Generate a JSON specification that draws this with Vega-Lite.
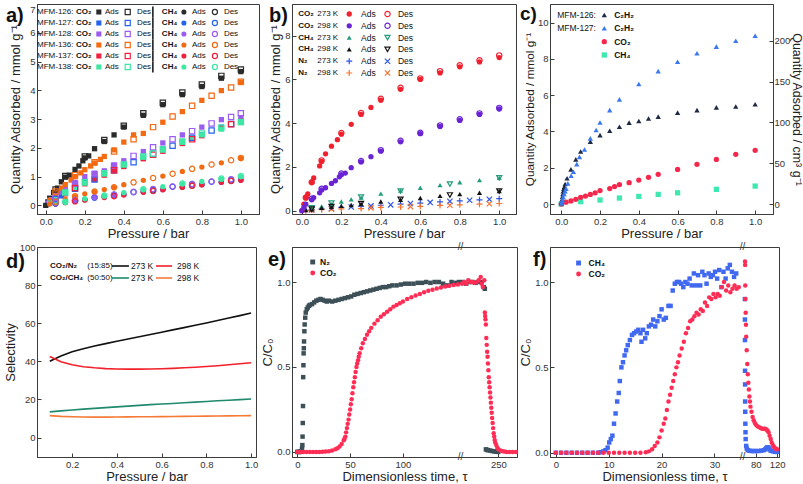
{
"$schema": "https://vega.github.io/schema/vega-lite/v6.json",
"autosize": {"type": "pad"},
"padding": {"left": 3, "top": 3, "right": 0, "bottom": 0},
"background": "white",
"config": {
  "font": "Liberation Sans",
  "view": {"stroke": "#3c3c3c", "strokeWidth": 1},
  "axis": {"grid": false, "domainColor": "#3c3c3c", "tickColor": "#3c3c3c", "tickSize": -4, "labelPadding": 6, "labelFontSize": 9.5, "labelColor": "#333333", "titleFontSize": 13, "titleFontWeight": "normal", "titleColor": "#222222", "titlePadding": 2, "labelFlush": false, "labelOverlap": false},
  "point": {"opacity": 1},
  "tick": {"opacity": 1},
  "text": {"color": "#111111", "fontSize": 8}
},
"columns": 3,
"bounds": "flush",
"align": "each",
"spacing": {"row": 33, "column": 33},
"resolve": {"scale": {"color": "independent", "shape": "independent"}},
"datasets": {
"a": [
{"m":"126","g":"C","t":"A","p":0,"q":0},{"m":"126","g":"C","t":"A","p":0.01,"q":0.12},{"m":"126","g":"C","t":"A","p":0.02,"q":0.25},{"m":"126","g":"C","t":"A","p":0.04,"q":0.45},{"m":"126","g":"C","t":"A","p":0.06,"q":0.6},{"m":"126","g":"C","t":"A","p":0.08,"q":0.82},{"m":"126","g":"C","t":"A","p":0.1,"q":0.98},{"m":"126","g":"C","t":"A","p":0.12,"q":1.05},{"m":"126","g":"C","t":"A","p":0.15,"q":1.25},{"m":"126","g":"C","t":"A","p":0.17,"q":1.37},{"m":"126","g":"C","t":"A","p":0.19,"q":1.55},{"m":"126","g":"C","t":"A","p":0.2,"q":1.65},{"m":"126","g":"C","t":"A","p":0.22,"q":1.72},{"m":"126","g":"C","t":"A","p":0.25,"q":1.97},{"m":"126","g":"C","t":"A","p":0.3,"q":2.22},{"m":"126","g":"C","t":"A","p":0.35,"q":2.45},{"m":"126","g":"C","t":"A","p":0.4,"q":2.72},{"m":"126","g":"C","t":"A","p":0.5,"q":3.13},{"m":"126","g":"C","t":"A","p":0.6,"q":3.5},{"m":"126","g":"C","t":"A","p":0.7,"q":3.85},{"m":"126","g":"C","t":"A","p":0.8,"q":4.13},{"m":"126","g":"C","t":"A","p":0.9,"q":4.42},{"m":"126","g":"C","t":"A","p":1,"q":4.65},
{"m":"126","g":"C","t":"D","p":1,"q":4.72},{"m":"126","g":"C","t":"D","p":0.9,"q":4.5},{"m":"126","g":"C","t":"D","p":0.8,"q":4.2},{"m":"126","g":"C","t":"D","p":0.7,"q":3.92},{"m":"126","g":"C","t":"D","p":0.6,"q":3.57},{"m":"126","g":"C","t":"D","p":0.5,"q":3.2},{"m":"126","g":"C","t":"D","p":0.4,"q":2.77},{"m":"126","g":"C","t":"D","p":0.3,"q":2.27},{"m":"126","g":"C","t":"D","p":0.2,"q":1.7},{"m":"126","g":"C","t":"D","p":0.1,"q":1.02},{"m":"126","g":"C","t":"D","p":0.05,"q":0.55},
{"m":"127","g":"C","t":"A","p":0.01,"q":0.05},{"m":"127","g":"C","t":"A","p":0.03,"q":0.15},{"m":"127","g":"C","t":"A","p":0.05,"q":0.22},{"m":"127","g":"C","t":"A","p":0.08,"q":0.33},{"m":"127","g":"C","t":"A","p":0.1,"q":0.42},{"m":"127","g":"C","t":"A","p":0.15,"q":0.6},{"m":"127","g":"C","t":"A","p":0.2,"q":0.8},{"m":"127","g":"C","t":"A","p":0.25,"q":0.95},{"m":"127","g":"C","t":"A","p":0.3,"q":1.08},{"m":"127","g":"C","t":"A","p":0.4,"q":1.38},{"m":"127","g":"C","t":"A","p":0.5,"q":1.65},{"m":"127","g":"C","t":"A","p":0.6,"q":1.93},{"m":"127","g":"C","t":"A","p":0.7,"q":2.2},{"m":"127","g":"C","t":"A","p":0.8,"q":2.45},{"m":"127","g":"C","t":"A","p":0.9,"q":2.72},{"m":"127","g":"C","t":"A","p":1,"q":2.95},
{"m":"127","g":"C","t":"D","p":0.95,"q":2.83},{"m":"127","g":"C","t":"D","p":0.85,"q":2.6},{"m":"127","g":"C","t":"D","p":0.75,"q":2.35},{"m":"127","g":"C","t":"D","p":0.65,"q":2.07},{"m":"127","g":"C","t":"D","p":0.55,"q":1.8},{"m":"127","g":"C","t":"D","p":0.45,"q":1.5},{"m":"127","g":"C","t":"D","p":0.35,"q":1.22},{"m":"127","g":"C","t":"D","p":0.25,"q":0.9},{"m":"127","g":"C","t":"D","p":0.15,"q":0.58},{"m":"127","g":"C","t":"D","p":0.05,"q":0.22},
{"m":"128","g":"C","t":"A","p":0.01,"q":0.08},{"m":"128","g":"C","t":"A","p":0.03,"q":0.2},{"m":"128","g":"C","t":"A","p":0.05,"q":0.3},{"m":"128","g":"C","t":"A","p":0.08,"q":0.45},{"m":"128","g":"C","t":"A","p":0.1,"q":0.55},{"m":"128","g":"C","t":"A","p":0.15,"q":0.8},{"m":"128","g":"C","t":"A","p":0.2,"q":1.0},{"m":"128","g":"C","t":"A","p":0.25,"q":1.12},{"m":"128","g":"C","t":"A","p":0.3,"q":1.2},{"m":"128","g":"C","t":"A","p":0.35,"q":1.4},{"m":"128","g":"C","t":"A","p":0.4,"q":1.55},{"m":"128","g":"C","t":"A","p":0.5,"q":1.87},{"m":"128","g":"C","t":"A","p":0.6,"q":2.17},{"m":"128","g":"C","t":"A","p":0.7,"q":2.45},{"m":"128","g":"C","t":"A","p":0.8,"q":2.72},{"m":"128","g":"C","t":"A","p":0.9,"q":2.98},{"m":"128","g":"C","t":"A","p":1,"q":3.05},
{"m":"128","g":"C","t":"D","p":1,"q":3.2},{"m":"128","g":"C","t":"D","p":0.95,"q":3.07},{"m":"128","g":"C","t":"D","p":0.85,"q":2.85},{"m":"128","g":"C","t":"D","p":0.75,"q":2.58},{"m":"128","g":"C","t":"D","p":0.65,"q":2.3},{"m":"128","g":"C","t":"D","p":0.55,"q":2.02},{"m":"128","g":"C","t":"D","p":0.45,"q":1.72},{"m":"128","g":"C","t":"D","p":0.35,"q":1.38},{"m":"128","g":"C","t":"D","p":0.25,"q":1.08},{"m":"128","g":"C","t":"D","p":0.15,"q":0.75},{"m":"128","g":"C","t":"D","p":0.05,"q":0.32},
{"m":"136","g":"C","t":"A","p":0.02,"q":0.18},{"m":"136","g":"C","t":"A","p":0.05,"q":0.43},{"m":"136","g":"C","t":"A","p":0.08,"q":0.6},{"m":"136","g":"C","t":"A","p":0.1,"q":0.72},{"m":"136","g":"C","t":"A","p":0.13,"q":0.88},{"m":"136","g":"C","t":"A","p":0.15,"q":1.0},{"m":"136","g":"C","t":"A","p":0.18,"q":1.13},{"m":"136","g":"C","t":"A","p":0.2,"q":1.24},{"m":"136","g":"C","t":"A","p":0.23,"q":1.37},{"m":"136","g":"C","t":"A","p":0.25,"q":1.47},{"m":"136","g":"C","t":"A","p":0.28,"q":1.6},{"m":"136","g":"C","t":"A","p":0.3,"q":1.7},{"m":"136","g":"C","t":"A","p":0.35,"q":1.93},{"m":"136","g":"C","t":"A","p":0.4,"q":2.2},{"m":"136","g":"C","t":"A","p":0.45,"q":2.45},{"m":"136","g":"C","t":"A","p":0.5,"q":2.5},{"m":"136","g":"C","t":"A","p":0.6,"q":2.89},{"m":"136","g":"C","t":"A","p":0.7,"q":3.26},{"m":"136","g":"C","t":"A","p":0.8,"q":3.65},{"m":"136","g":"C","t":"A","p":0.9,"q":3.99},{"m":"136","g":"C","t":"A","p":1,"q":4.27},
{"m":"136","g":"C","t":"D","p":1,"q":4.3},{"m":"136","g":"C","t":"D","p":0.95,"q":4.1},{"m":"136","g":"C","t":"D","p":0.85,"q":3.81},{"m":"136","g":"C","t":"D","p":0.75,"q":3.46},{"m":"136","g":"C","t":"D","p":0.65,"q":3.09},{"m":"136","g":"C","t":"D","p":0.55,"q":2.72},{"m":"136","g":"C","t":"D","p":0.45,"q":2.3},{"m":"136","g":"C","t":"D","p":0.35,"q":1.87},{"m":"136","g":"C","t":"D","p":0.25,"q":1.5},{"m":"136","g":"C","t":"D","p":0.15,"q":1.05},{"m":"136","g":"C","t":"D","p":0.05,"q":0.48},
{"m":"137","g":"C","t":"A","p":0.02,"q":0.08},{"m":"137","g":"C","t":"A","p":0.05,"q":0.2},{"m":"137","g":"C","t":"A","p":0.1,"q":0.4},{"m":"137","g":"C","t":"A","p":0.15,"q":0.58},{"m":"137","g":"C","t":"A","p":0.2,"q":0.75},{"m":"137","g":"C","t":"A","p":0.25,"q":0.9},{"m":"137","g":"C","t":"A","p":0.3,"q":1.05},{"m":"137","g":"C","t":"A","p":0.35,"q":1.2},{"m":"137","g":"C","t":"A","p":0.4,"q":1.35},{"m":"137","g":"C","t":"A","p":0.5,"q":1.62},{"m":"137","g":"C","t":"A","p":0.6,"q":1.88},{"m":"137","g":"C","t":"A","p":0.7,"q":2.15},{"m":"137","g":"C","t":"A","p":0.8,"q":2.42},{"m":"137","g":"C","t":"A","p":0.9,"q":2.68},{"m":"137","g":"C","t":"A","p":1,"q":2.92},
{"m":"137","g":"C","t":"D","p":0.95,"q":2.82},{"m":"137","g":"C","t":"D","p":0.75,"q":2.3},{"m":"137","g":"C","t":"D","p":0.55,"q":1.76},{"m":"137","g":"C","t":"D","p":0.35,"q":1.22},{"m":"137","g":"C","t":"D","p":0.15,"q":0.6},
{"m":"138","g":"C","t":"A","p":0.02,"q":0.08},{"m":"138","g":"C","t":"A","p":0.05,"q":0.22},{"m":"138","g":"C","t":"A","p":0.1,"q":0.45},{"m":"138","g":"C","t":"A","p":0.15,"q":0.62},{"m":"138","g":"C","t":"A","p":0.2,"q":0.78},{"m":"138","g":"C","t":"A","p":0.3,"q":1.1},{"m":"138","g":"C","t":"A","p":0.4,"q":1.42},{"m":"138","g":"C","t":"A","p":0.5,"q":1.68},{"m":"138","g":"C","t":"A","p":0.6,"q":1.93},{"m":"138","g":"C","t":"A","p":0.7,"q":2.2},{"m":"138","g":"C","t":"A","p":0.75,"q":2.33},{"m":"138","g":"C","t":"A","p":0.8,"q":2.45},{"m":"138","g":"C","t":"A","p":0.9,"q":2.65},{"m":"138","g":"C","t":"A","p":1,"q":2.88},
{"m":"138","g":"C","t":"D","p":1,"q":2.9},{"m":"138","g":"C","t":"D","p":0.9,"q":2.7},{"m":"138","g":"C","t":"D","p":0.8,"q":2.5},{"m":"138","g":"C","t":"D","p":0.7,"q":2.22},{"m":"138","g":"C","t":"D","p":0.6,"q":1.95},{"m":"138","g":"C","t":"D","p":0.55,"q":1.8},{"m":"138","g":"C","t":"D","p":0.5,"q":1.7},{"m":"138","g":"C","t":"D","p":0.4,"q":1.42},{"m":"138","g":"C","t":"D","p":0.3,"q":1.12},{"m":"138","g":"C","t":"D","p":0.2,"q":0.8},{"m":"138","g":"C","t":"D","p":0.1,"q":0.45},
{"m":"126","g":"M","t":"A","p":0,"q":0},{"m":"126","g":"M","t":"A","p":0.05,"q":0.05},{"m":"126","g":"M","t":"A","p":0.1,"q":0.1},{"m":"126","g":"M","t":"A","p":0.2,"q":0.2},{"m":"126","g":"M","t":"A","p":0.3,"q":0.3},{"m":"126","g":"M","t":"A","p":0.4,"q":0.38},{"m":"126","g":"M","t":"A","p":0.5,"q":0.47},{"m":"126","g":"M","t":"A","p":0.6,"q":0.55},{"m":"126","g":"M","t":"A","p":0.7,"q":0.63},{"m":"126","g":"M","t":"A","p":0.8,"q":0.72},{"m":"126","g":"M","t":"A","p":0.9,"q":0.8},{"m":"126","g":"M","t":"A","p":1,"q":0.88},
{"m":"126","g":"M","t":"D","p":0.95,"q":0.86},{"m":"126","g":"M","t":"D","p":0.75,"q":0.69},{"m":"126","g":"M","t":"D","p":0.55,"q":0.52},{"m":"126","g":"M","t":"D","p":0.35,"q":0.35},{"m":"126","g":"M","t":"D","p":0.15,"q":0.16},
{"m":"127","g":"M","t":"A","p":0.05,"q":0.06},{"m":"127","g":"M","t":"A","p":0.1,"q":0.11},{"m":"127","g":"M","t":"A","p":0.2,"q":0.2},{"m":"127","g":"M","t":"A","p":0.3,"q":0.3},{"m":"127","g":"M","t":"A","p":0.4,"q":0.38},{"m":"127","g":"M","t":"A","p":0.5,"q":0.47},{"m":"127","g":"M","t":"A","p":0.6,"q":0.56},{"m":"127","g":"M","t":"A","p":0.7,"q":0.65},{"m":"127","g":"M","t":"A","p":0.8,"q":0.74},{"m":"127","g":"M","t":"A","p":0.9,"q":0.83},{"m":"127","g":"M","t":"A","p":1,"q":0.92},
{"m":"127","g":"M","t":"D","p":0.95,"q":0.9},{"m":"127","g":"M","t":"D","p":0.85,"q":0.82},{"m":"127","g":"M","t":"D","p":0.75,"q":0.74},{"m":"127","g":"M","t":"D","p":0.65,"q":0.65},{"m":"127","g":"M","t":"D","p":0.55,"q":0.56},{"m":"127","g":"M","t":"D","p":0.45,"q":0.46},{"m":"127","g":"M","t":"D","p":0.35,"q":0.37},{"m":"127","g":"M","t":"D","p":0.25,"q":0.27},{"m":"127","g":"M","t":"D","p":0.15,"q":0.17},{"m":"127","g":"M","t":"D","p":0.05,"q":0.07},
{"m":"128","g":"M","t":"A","p":0.05,"q":0.07},{"m":"128","g":"M","t":"A","p":0.1,"q":0.12},{"m":"128","g":"M","t":"A","p":0.15,"q":0.16},{"m":"128","g":"M","t":"A","p":0.2,"q":0.21},{"m":"128","g":"M","t":"A","p":0.25,"q":0.26},{"m":"128","g":"M","t":"A","p":0.3,"q":0.31},{"m":"128","g":"M","t":"A","p":0.35,"q":0.35},{"m":"128","g":"M","t":"A","p":0.4,"q":0.39},{"m":"128","g":"M","t":"A","p":0.5,"q":0.48},{"m":"128","g":"M","t":"A","p":0.6,"q":0.56},{"m":"128","g":"M","t":"A","p":0.7,"q":0.64},{"m":"128","g":"M","t":"A","p":0.8,"q":0.72},{"m":"128","g":"M","t":"A","p":0.9,"q":0.8},{"m":"128","g":"M","t":"A","p":1,"q":0.88},
{"m":"128","g":"M","t":"D","p":0.95,"q":0.91},{"m":"128","g":"M","t":"D","p":0.85,"q":0.83},{"m":"128","g":"M","t":"D","p":0.75,"q":0.74},{"m":"128","g":"M","t":"D","p":0.65,"q":0.66},{"m":"128","g":"M","t":"D","p":0.55,"q":0.57},{"m":"128","g":"M","t":"D","p":0.45,"q":0.47},{"m":"128","g":"M","t":"D","p":0.35,"q":0.38},{"m":"128","g":"M","t":"D","p":0.25,"q":0.29},{"m":"128","g":"M","t":"D","p":0.15,"q":0.19},{"m":"128","g":"M","t":"D","p":0.05,"q":0.08},
{"m":"136","g":"M","t":"A","p":0.02,"q":0.05},{"m":"136","g":"M","t":"A","p":0.05,"q":0.12},{"m":"136","g":"M","t":"A","p":0.1,"q":0.22},{"m":"136","g":"M","t":"A","p":0.15,"q":0.3},{"m":"136","g":"M","t":"A","p":0.2,"q":0.4},{"m":"136","g":"M","t":"A","p":0.25,"q":0.47},{"m":"136","g":"M","t":"A","p":0.3,"q":0.55},{"m":"136","g":"M","t":"A","p":0.35,"q":0.62},{"m":"136","g":"M","t":"A","p":0.4,"q":0.72},{"m":"136","g":"M","t":"A","p":0.5,"q":0.87},{"m":"136","g":"M","t":"A","p":0.6,"q":1.02},{"m":"136","g":"M","t":"A","p":0.7,"q":1.18},{"m":"136","g":"M","t":"A","p":0.8,"q":1.33},{"m":"136","g":"M","t":"A","p":0.9,"q":1.48},{"m":"136","g":"M","t":"A","p":1,"q":1.63},
{"m":"136","g":"M","t":"D","p":1,"q":1.65},{"m":"136","g":"M","t":"D","p":0.95,"q":1.57},{"m":"136","g":"M","t":"D","p":0.85,"q":1.42},{"m":"136","g":"M","t":"D","p":0.75,"q":1.27},{"m":"136","g":"M","t":"D","p":0.65,"q":1.1},{"m":"136","g":"M","t":"D","p":0.55,"q":0.95},{"m":"136","g":"M","t":"D","p":0.45,"q":0.8},{"m":"136","g":"M","t":"D","p":0.35,"q":0.63},{"m":"136","g":"M","t":"D","p":0.25,"q":0.48},{"m":"136","g":"M","t":"D","p":0.15,"q":0.32},{"m":"136","g":"M","t":"D","p":0.05,"q":0.13},
{"m":"137","g":"M","t":"A","p":0.05,"q":0.05},{"m":"137","g":"M","t":"A","p":0.1,"q":0.1},{"m":"137","g":"M","t":"A","p":0.2,"q":0.18},{"m":"137","g":"M","t":"A","p":0.3,"q":0.27},{"m":"137","g":"M","t":"A","p":0.4,"q":0.36},{"m":"137","g":"M","t":"A","p":0.5,"q":0.46},{"m":"137","g":"M","t":"A","p":0.6,"q":0.54},{"m":"137","g":"M","t":"A","p":0.7,"q":0.63},{"m":"137","g":"M","t":"A","p":0.8,"q":0.72},{"m":"137","g":"M","t":"A","p":0.9,"q":0.8},{"m":"137","g":"M","t":"A","p":1,"q":0.87},
{"m":"137","g":"M","t":"D","p":0.95,"q":0.85},{"m":"137","g":"M","t":"D","p":0.75,"q":0.68},{"m":"137","g":"M","t":"D","p":0.55,"q":0.5},{"m":"137","g":"M","t":"D","p":0.35,"q":0.32},{"m":"137","g":"M","t":"D","p":0.15,"q":0.14},
{"m":"138","g":"M","t":"A","p":0.05,"q":0.07},{"m":"138","g":"M","t":"A","p":0.1,"q":0.12},{"m":"138","g":"M","t":"A","p":0.2,"q":0.23},{"m":"138","g":"M","t":"A","p":0.3,"q":0.33},{"m":"138","g":"M","t":"A","p":0.4,"q":0.44},{"m":"138","g":"M","t":"A","p":0.5,"q":0.55},{"m":"138","g":"M","t":"A","p":0.6,"q":0.65},{"m":"138","g":"M","t":"A","p":0.7,"q":0.75},{"m":"138","g":"M","t":"A","p":0.8,"q":0.83},{"m":"138","g":"M","t":"A","p":0.9,"q":0.92},{"m":"138","g":"M","t":"A","p":1,"q":1.0},
{"m":"138","g":"M","t":"D","p":1,"q":1.02},{"m":"138","g":"M","t":"D","p":0.9,"q":0.93},{"m":"138","g":"M","t":"D","p":0.7,"q":0.76},{"m":"138","g":"M","t":"D","p":0.5,"q":0.56},{"m":"138","g":"M","t":"D","p":0.3,"q":0.34},{"m":"138","g":"M","t":"D","p":0.1,"q":0.13}
],
"legA": [{"m":"126","lab":"MFM-126:"},{"m":"127","lab":"MFM-127:"},{"m":"128","lab":"MFM-128:"},{"m":"136","lab":"MFM-136:"},{"m":"137","lab":"MFM-137:"},{"m":"138","lab":"MFM-138:"}],
"b": [
{"s":"CO2 273","t":"A","p":0,"q":0},{"s":"CO2 273","t":"A","p":0.01,"q":0.3},{"s":"CO2 273","t":"A","p":0.02,"q":0.6},{"s":"CO2 273","t":"A","p":0.03,"q":0.77},{"s":"CO2 273","t":"A","p":0.05,"q":1.3},{"s":"CO2 273","t":"A","p":0.06,"q":1.5},{"s":"CO2 273","t":"A","p":0.09,"q":2.05},{"s":"CO2 273","t":"A","p":0.1,"q":2.25},{"s":"CO2 273","t":"A","p":0.12,"q":2.6},{"s":"CO2 273","t":"A","p":0.15,"q":2.95},{"s":"CO2 273","t":"A","p":0.18,"q":3.25},{"s":"CO2 273","t":"A","p":0.2,"q":3.5},{"s":"CO2 273","t":"A","p":0.25,"q":3.95},{"s":"CO2 273","t":"A","p":0.3,"q":4.4},{"s":"CO2 273","t":"A","p":0.35,"q":4.72},{"s":"CO2 273","t":"A","p":0.4,"q":5.05},{"s":"CO2 273","t":"A","p":0.5,"q":5.55},{"s":"CO2 273","t":"A","p":0.6,"q":6.0},{"s":"CO2 273","t":"A","p":0.7,"q":6.3},{"s":"CO2 273","t":"A","p":0.8,"q":6.58},{"s":"CO2 273","t":"A","p":0.9,"q":6.8},{"s":"CO2 273","t":"A","p":1,"q":7.0},
{"s":"CO2 273","t":"D","p":1,"q":7.1},{"s":"CO2 273","t":"D","p":0.9,"q":6.88},{"s":"CO2 273","t":"D","p":0.8,"q":6.65},{"s":"CO2 273","t":"D","p":0.7,"q":6.38},{"s":"CO2 273","t":"D","p":0.6,"q":6.05},{"s":"CO2 273","t":"D","p":0.5,"q":5.62},{"s":"CO2 273","t":"D","p":0.4,"q":5.12},{"s":"CO2 273","t":"D","p":0.3,"q":4.47},{"s":"CO2 273","t":"D","p":0.2,"q":3.55},{"s":"CO2 273","t":"D","p":0.1,"q":2.3},{"s":"CO2 273","t":"D","p":0.05,"q":1.3},{"s":"CO2 273","t":"D","p":0.02,"q":0.6},
{"s":"CO2 298","t":"A","p":0,"q":0},{"s":"CO2 298","t":"A","p":0.01,"q":0.15},{"s":"CO2 298","t":"A","p":0.02,"q":0.3},{"s":"CO2 298","t":"A","p":0.05,"q":0.5},{"s":"CO2 298","t":"A","p":0.06,"q":0.6},{"s":"CO2 298","t":"A","p":0.09,"q":0.82},{"s":"CO2 298","t":"A","p":0.1,"q":0.95},{"s":"CO2 298","t":"A","p":0.12,"q":1.05},{"s":"CO2 298","t":"A","p":0.15,"q":1.25},{"s":"CO2 298","t":"A","p":0.17,"q":1.37},{"s":"CO2 298","t":"A","p":0.19,"q":1.55},{"s":"CO2 298","t":"A","p":0.2,"q":1.65},{"s":"CO2 298","t":"A","p":0.22,"q":1.72},{"s":"CO2 298","t":"A","p":0.25,"q":1.97},{"s":"CO2 298","t":"A","p":0.3,"q":2.23},{"s":"CO2 298","t":"A","p":0.35,"q":2.47},{"s":"CO2 298","t":"A","p":0.4,"q":2.72},{"s":"CO2 298","t":"A","p":0.5,"q":3.15},{"s":"CO2 298","t":"A","p":0.6,"q":3.52},{"s":"CO2 298","t":"A","p":0.7,"q":3.85},{"s":"CO2 298","t":"A","p":0.8,"q":4.13},{"s":"CO2 298","t":"A","p":0.9,"q":4.4},{"s":"CO2 298","t":"A","p":1,"q":4.65},
{"s":"CO2 298","t":"D","p":1,"q":4.7},{"s":"CO2 298","t":"D","p":0.9,"q":4.45},{"s":"CO2 298","t":"D","p":0.8,"q":4.18},{"s":"CO2 298","t":"D","p":0.7,"q":3.9},{"s":"CO2 298","t":"D","p":0.6,"q":3.56},{"s":"CO2 298","t":"D","p":0.5,"q":3.2},{"s":"CO2 298","t":"D","p":0.4,"q":2.77},{"s":"CO2 298","t":"D","p":0.3,"q":2.27},{"s":"CO2 298","t":"D","p":0.2,"q":1.7},{"s":"CO2 298","t":"D","p":0.1,"q":1.0},{"s":"CO2 298","t":"D","p":0.05,"q":0.55},
{"s":"CH4 273","t":"A","p":0.02,"q":0.05},{"s":"CH4 273","t":"A","p":0.05,"q":0.12},{"s":"CH4 273","t":"A","p":0.1,"q":0.2},{"s":"CH4 273","t":"A","p":0.15,"q":0.3},{"s":"CH4 273","t":"A","p":0.2,"q":0.42},{"s":"CH4 273","t":"A","p":0.25,"q":0.52},{"s":"CH4 273","t":"A","p":0.3,"q":0.6},{"s":"CH4 273","t":"A","p":0.4,"q":0.78},{"s":"CH4 273","t":"A","p":0.5,"q":0.92},{"s":"CH4 273","t":"A","p":0.6,"q":1.05},{"s":"CH4 273","t":"A","p":0.7,"q":1.17},{"s":"CH4 273","t":"A","p":0.8,"q":1.3},{"s":"CH4 273","t":"A","p":0.9,"q":1.4},{"s":"CH4 273","t":"A","p":1,"q":1.5},
{"s":"CH4 273","t":"D","p":1,"q":1.5},{"s":"CH4 273","t":"D","p":0.75,"q":1.22},{"s":"CH4 273","t":"D","p":0.5,"q":0.9},{"s":"CH4 273","t":"D","p":0.3,"q":0.62},{"s":"CH4 273","t":"D","p":0.15,"q":0.35},{"s":"CH4 273","t":"D","p":0.05,"q":0.13},
{"s":"CH4 298","t":"A","p":0.02,"q":0.03},{"s":"CH4 298","t":"A","p":0.05,"q":0.07},{"s":"CH4 298","t":"A","p":0.1,"q":0.13},{"s":"CH4 298","t":"A","p":0.15,"q":0.18},{"s":"CH4 298","t":"A","p":0.2,"q":0.22},{"s":"CH4 298","t":"A","p":0.25,"q":0.26},{"s":"CH4 298","t":"A","p":0.3,"q":0.32},{"s":"CH4 298","t":"A","p":0.4,"q":0.42},{"s":"CH4 298","t":"A","p":0.5,"q":0.5},{"s":"CH4 298","t":"A","p":0.6,"q":0.58},{"s":"CH4 298","t":"A","p":0.7,"q":0.68},{"s":"CH4 298","t":"A","p":0.8,"q":0.76},{"s":"CH4 298","t":"A","p":0.9,"q":0.82},{"s":"CH4 298","t":"A","p":1,"q":0.9},
{"s":"CH4 298","t":"D","p":1,"q":0.9},{"s":"CH4 298","t":"D","p":0.75,"q":0.72},{"s":"CH4 298","t":"D","p":0.5,"q":0.52},{"s":"CH4 298","t":"D","p":0.3,"q":0.33},{"s":"CH4 298","t":"D","p":0.15,"q":0.19},{"s":"CH4 298","t":"D","p":0.05,"q":0.08},
{"s":"N2 273","t":"A","p":0.02,"q":0.02},{"s":"N2 273","t":"A","p":0.05,"q":0.05},{"s":"N2 273","t":"A","p":0.1,"q":0.08},{"s":"N2 273","t":"A","p":0.2,"q":0.15},{"s":"N2 273","t":"A","p":0.3,"q":0.2},{"s":"N2 273","t":"A","p":0.4,"q":0.25},{"s":"N2 273","t":"A","p":0.5,"q":0.3},{"s":"N2 273","t":"A","p":0.6,"q":0.35},{"s":"N2 273","t":"A","p":0.7,"q":0.4},{"s":"N2 273","t":"A","p":0.8,"q":0.45},{"s":"N2 273","t":"A","p":0.9,"q":0.5},{"s":"N2 273","t":"A","p":1,"q":0.55},
{"s":"N2 273","t":"D","p":0.95,"q":0.52},{"s":"N2 273","t":"D","p":0.85,"q":0.48},{"s":"N2 273","t":"D","p":0.75,"q":0.43},{"s":"N2 273","t":"D","p":0.65,"q":0.38},{"s":"N2 273","t":"D","p":0.55,"q":0.33},{"s":"N2 273","t":"D","p":0.45,"q":0.27},{"s":"N2 273","t":"D","p":0.35,"q":0.22},{"s":"N2 273","t":"D","p":0.25,"q":0.17},{"s":"N2 273","t":"D","p":0.15,"q":0.1},{"s":"N2 273","t":"D","p":0.05,"q":0.05},
{"s":"N2 298","t":"A","p":0.02,"q":0.01},{"s":"N2 298","t":"A","p":0.05,"q":0.03},{"s":"N2 298","t":"A","p":0.1,"q":0.05},{"s":"N2 298","t":"A","p":0.2,"q":0.08},{"s":"N2 298","t":"A","p":0.3,"q":0.1},{"s":"N2 298","t":"A","p":0.4,"q":0.15},{"s":"N2 298","t":"A","p":0.5,"q":0.17},{"s":"N2 298","t":"A","p":0.6,"q":0.2},{"s":"N2 298","t":"A","p":0.7,"q":0.24},{"s":"N2 298","t":"A","p":0.8,"q":0.27},{"s":"N2 298","t":"A","p":0.9,"q":0.3},{"s":"N2 298","t":"A","p":1,"q":0.33},
{"s":"N2 298","t":"D","p":0.95,"q":0.32},{"s":"N2 298","t":"D","p":0.75,"q":0.25},{"s":"N2 298","t":"D","p":0.55,"q":0.19},{"s":"N2 298","t":"D","p":0.35,"q":0.13},{"s":"N2 298","t":"D","p":0.15,"q":0.07},{"s":"N2 298","t":"D","p":0.05,"q":0.03}
],
"legB": [{"s":"CO2 273","gas":"CO₂","tmp":"273 K"},{"s":"CO2 298","gas":"CO₂","tmp":"298 K"},{"s":"CH4 273","gas":"CH₄","tmp":"273 K"},{"s":"CH4 298","gas":"CH₄","tmp":"298 K"},{"s":"N2 273","gas":"N₂","tmp":"273 K"},{"s":"N2 298","gas":"N₂","tmp":"298 K"}],
"c": [
{"s":"CH4","p":0,"q":0},{"s":"CH4","p":0.1,"q":0.13},{"s":"CH4","p":0.2,"q":0.22},{"s":"CH4","p":0.3,"q":0.33},{"s":"CH4","p":0.4,"q":0.42},{"s":"CH4","p":0.5,"q":0.53},{"s":"CH4","p":0.6,"q":0.62},{"s":"CH4","p":0.8,"q":0.81},{"s":"CH4","p":1,"q":0.99},
{"s":"CO2","p":0,"q":0},{"s":"CO2","p":0.025,"q":0.1},{"s":"CO2","p":0.05,"q":0.17},{"s":"CO2","p":0.075,"q":0.26},{"s":"CO2","p":0.1,"q":0.37},{"s":"CO2","p":0.125,"q":0.44},{"s":"CO2","p":0.15,"q":0.53},{"s":"CO2","p":0.175,"q":0.62},{"s":"CO2","p":0.2,"q":0.74},{"s":"CO2","p":0.25,"q":0.85},{"s":"CO2","p":0.275,"q":0.96},{"s":"CO2","p":0.3,"q":1.07},{"s":"CO2","p":0.35,"q":1.18},{"s":"CO2","p":0.4,"q":1.32},{"s":"CO2","p":0.45,"q":1.47},{"s":"CO2","p":0.5,"q":1.64},{"s":"CO2","p":0.6,"q":1.91},{"s":"CO2","p":0.7,"q":2.19},{"s":"CO2","p":0.8,"q":2.46},{"s":"CO2","p":0.9,"q":2.74},{"s":"CO2","p":1,"q":2.96},
{"s":"126 C2H2","p":0.001,"q":0.05},{"s":"126 C2H2","p":0.002,"q":0.1},{"s":"126 C2H2","p":0.004,"q":0.25},{"s":"126 C2H2","p":0.006,"q":0.4},{"s":"126 C2H2","p":0.008,"q":0.55},{"s":"126 C2H2","p":0.01,"q":0.7},{"s":"126 C2H2","p":0.013,"q":0.85},{"s":"126 C2H2","p":0.016,"q":0.95},{"s":"126 C2H2","p":0.02,"q":1.1},{"s":"126 C2H2","p":0.03,"q":1.42},{"s":"126 C2H2","p":0.05,"q":1.91},{"s":"126 C2H2","p":0.075,"q":2.46},{"s":"126 C2H2","p":0.1,"q":2.9},{"s":"126 C2H2","p":0.15,"q":3.44},{"s":"126 C2H2","p":0.2,"q":3.8},{"s":"126 C2H2","p":0.25,"q":4.04},{"s":"126 C2H2","p":0.3,"q":4.26},{"s":"126 C2H2","p":0.35,"q":4.49},{"s":"126 C2H2","p":0.4,"q":4.58},{"s":"126 C2H2","p":0.45,"q":4.72},{"s":"126 C2H2","p":0.5,"q":4.82},{"s":"126 C2H2","p":0.6,"q":5.04},{"s":"126 C2H2","p":0.7,"q":5.18},{"s":"126 C2H2","p":0.8,"q":5.33},{"s":"126 C2H2","p":0.9,"q":5.38},{"s":"126 C2H2","p":1,"q":5.5},
{"s":"127 C2H2","p":0.001,"q":0.03},{"s":"127 C2H2","p":0.003,"q":0.1},{"s":"127 C2H2","p":0.006,"q":0.22},{"s":"127 C2H2","p":0.01,"q":0.38},{"s":"127 C2H2","p":0.015,"q":0.55},{"s":"127 C2H2","p":0.02,"q":0.7},{"s":"127 C2H2","p":0.025,"q":0.85},{"s":"127 C2H2","p":0.034,"q":1.14},{"s":"127 C2H2","p":0.051,"q":1.56},{"s":"127 C2H2","p":0.063,"q":1.78},{"s":"127 C2H2","p":0.08,"q":2.2},{"s":"127 C2H2","p":0.094,"q":2.6},{"s":"127 C2H2","p":0.12,"q":3.01},{"s":"127 C2H2","p":0.15,"q":3.62},{"s":"127 C2H2","p":0.18,"q":4.08},{"s":"127 C2H2","p":0.2,"q":4.5},{"s":"127 C2H2","p":0.25,"q":5.18},{"s":"127 C2H2","p":0.3,"q":5.77},{"s":"127 C2H2","p":0.4,"q":6.62},{"s":"127 C2H2","p":0.5,"q":7.33},{"s":"127 C2H2","p":0.6,"q":7.85},{"s":"127 C2H2","p":0.7,"q":8.31},{"s":"127 C2H2","p":0.8,"q":8.68},{"s":"127 C2H2","p":0.9,"q":9.0},{"s":"127 C2H2","p":1,"q":9.28}
],
"legC": [{"s":"126 C2H2","lab":"MFM-126:","gas":"C₂H₂"},{"s":"127 C2H2","lab":"MFM-127:","gas":"C₂H₂"},{"s":"CO2","lab":"","gas":"CO₂"},{"s":"CH4","lab":"","gas":"CH₄"}],
"d": [
{"s":"N2 273","p":0.1,"v":40},{"s":"N2 273","p":0.15,"v":42.8},{"s":"N2 273","p":0.2,"v":45},{"s":"N2 273","p":0.25,"v":46.6},{"s":"N2 273","p":0.3,"v":48},{"s":"N2 273","p":0.35,"v":49.3},{"s":"N2 273","p":0.4,"v":50.5},{"s":"N2 273","p":0.45,"v":51.7},{"s":"N2 273","p":0.5,"v":52.9},{"s":"N2 273","p":0.55,"v":54.1},{"s":"N2 273","p":0.6,"v":55.3},{"s":"N2 273","p":0.65,"v":56.5},{"s":"N2 273","p":0.7,"v":57.7},{"s":"N2 273","p":0.75,"v":58.9},{"s":"N2 273","p":0.8,"v":60.1},{"s":"N2 273","p":0.85,"v":61.4},{"s":"N2 273","p":0.9,"v":62.7},{"s":"N2 273","p":0.95,"v":64},{"s":"N2 273","p":1,"v":65.4},
{"s":"N2 298","p":0.1,"v":42.5},{"s":"N2 298","p":0.15,"v":39.8},{"s":"N2 298","p":0.2,"v":38.2},{"s":"N2 298","p":0.25,"v":37.2},{"s":"N2 298","p":0.3,"v":36.6},{"s":"N2 298","p":0.35,"v":36.2},{"s":"N2 298","p":0.4,"v":36},{"s":"N2 298","p":0.45,"v":35.9},{"s":"N2 298","p":0.5,"v":35.9},{"s":"N2 298","p":0.55,"v":36},{"s":"N2 298","p":0.6,"v":36.1},{"s":"N2 298","p":0.65,"v":36.3},{"s":"N2 298","p":0.7,"v":36.6},{"s":"N2 298","p":0.75,"v":36.9},{"s":"N2 298","p":0.8,"v":37.3},{"s":"N2 298","p":0.85,"v":37.7},{"s":"N2 298","p":0.9,"v":38.2},{"s":"N2 298","p":0.95,"v":38.7},{"s":"N2 298","p":1,"v":39.3},
{"s":"CH4 273","p":0.1,"v":13.5},{"s":"CH4 273","p":0.15,"v":14.0},{"s":"CH4 273","p":0.2,"v":14.5},{"s":"CH4 273","p":0.25,"v":14.9},{"s":"CH4 273","p":0.3,"v":15.3},{"s":"CH4 273","p":0.35,"v":15.7},{"s":"CH4 273","p":0.4,"v":16.1},{"s":"CH4 273","p":0.45,"v":16.5},{"s":"CH4 273","p":0.5,"v":16.9},{"s":"CH4 273","p":0.55,"v":17.3},{"s":"CH4 273","p":0.6,"v":17.6},{"s":"CH4 273","p":0.65,"v":17.9},{"s":"CH4 273","p":0.7,"v":18.3},{"s":"CH4 273","p":0.75,"v":18.6},{"s":"CH4 273","p":0.8,"v":18.9},{"s":"CH4 273","p":0.85,"v":19.3},{"s":"CH4 273","p":0.9,"v":19.6},{"s":"CH4 273","p":0.95,"v":19.9},{"s":"CH4 273","p":1,"v":20.2},
{"s":"CH4 298","p":0.1,"v":11.5},{"s":"CH4 298","p":0.15,"v":11.1},{"s":"CH4 298","p":0.2,"v":10.9},{"s":"CH4 298","p":0.25,"v":10.8},{"s":"CH4 298","p":0.3,"v":10.75},{"s":"CH4 298","p":0.35,"v":10.75},{"s":"CH4 298","p":0.4,"v":10.8},{"s":"CH4 298","p":0.45,"v":10.85},{"s":"CH4 298","p":0.5,"v":10.9},{"s":"CH4 298","p":0.55,"v":10.95},{"s":"CH4 298","p":0.6,"v":11.0},{"s":"CH4 298","p":0.65,"v":11.05},{"s":"CH4 298","p":0.7,"v":11.1},{"s":"CH4 298","p":0.75,"v":11.2},{"s":"CH4 298","p":0.8,"v":11.25},{"s":"CH4 298","p":0.85,"v":11.3},{"s":"CH4 298","p":0.9,"v":11.4},{"s":"CH4 298","p":0.95,"v":11.45},{"s":"CH4 298","p":1,"v":11.5}
],
"legD": [{"s":"N2 273","row":"N2","mix":"CO₂/N₂","ratio":"(15:85)","tmp":"273 K"},{"s":"N2 298","row":"N2","mix":"CO₂/N₂","ratio":"(15:85)","tmp":"298 K"},{"s":"CH4 273","row":"CH4","mix":"CO₂/CH₄","ratio":"(50:50)","tmp":"273 K"},{"s":"CH4 298","row":"CH4","mix":"CO₂/CH₄","ratio":"(50:50)","tmp":"298 K"}],
"e": [
{"s":"N2","u":0,"c":0},{"s":"N2","u":1,"c":0},{"s":"N2","u":2,"c":0},{"s":"N2","u":3,"c":0},{"s":"N2","u":4,"c":0.005},{"s":"N2","u":4.5,"c":0.02},{"s":"N2","u":4.8,"c":0.04},{"s":"N2","u":5,"c":0.09},{"s":"N2","u":5.2,"c":0.17},{"s":"N2","u":5.4,"c":0.27},{"s":"N2","u":5.6,"c":0.44},{"s":"N2","u":5.8,"c":0.51},{"s":"N2","u":6,"c":0.58},{"s":"N2","u":6.2,"c":0.61},{"s":"N2","u":6.4,"c":0.65},{"s":"N2","u":6.7,"c":0.71},{"s":"N2","u":7,"c":0.75},{"s":"N2","u":7.5,"c":0.79},{"s":"N2","u":8,"c":0.82},{"s":"N2","u":9,"c":0.84},{"s":"N2","u":10,"c":0.85},{"s":"N2","u":11,"c":0.86},{"s":"N2","u":12,"c":0.865},{"s":"N2","u":14,"c":0.87},{"s":"N2","u":16,"c":0.88},{"s":"N2","u":18,"c":0.89},{"s":"N2","u":20,"c":0.895},{"s":"N2","u":22,"c":0.9},{"s":"N2","u":24,"c":0.895},{"s":"N2","u":26,"c":0.89},{"s":"N2","u":28,"c":0.885},{"s":"N2","u":30,"c":0.89},{"s":"N2","u":33,"c":0.885},{"s":"N2","u":36,"c":0.89},{"s":"N2","u":39,"c":0.895},{"s":"N2","u":42,"c":0.9},{"s":"N2","u":45,"c":0.905},{"s":"N2","u":48,"c":0.91},{"s":"N2","u":51,"c":0.915},{"s":"N2","u":54,"c":0.925},{"s":"N2","u":57,"c":0.93},{"s":"N2","u":60,"c":0.935},{"s":"N2","u":63,"c":0.94},{"s":"N2","u":66,"c":0.945},{"s":"N2","u":69,"c":0.95},{"s":"N2","u":72,"c":0.955},{"s":"N2","u":75,"c":0.96},{"s":"N2","u":78,"c":0.965},{"s":"N2","u":81,"c":0.97},{"s":"N2","u":84,"c":0.97},{"s":"N2","u":87,"c":0.975},{"s":"N2","u":90,"c":0.98},{"s":"N2","u":94,"c":0.98},{"s":"N2","u":98,"c":0.985},{"s":"N2","u":102,"c":0.99},{"s":"N2","u":106,"c":0.99},{"s":"N2","u":110,"c":0.99},{"s":"N2","u":114,"c":0.995},{"s":"N2","u":118,"c":0.995},{"s":"N2","u":122,"c":1.0},{"s":"N2","u":126,"c":0.995},{"s":"N2","u":130,"c":1.0},{"s":"N2","u":134,"c":1.0},{"s":"N2","u":138,"c":0.99},{"s":"N2","u":142,"c":0.98},{"s":"N2","u":146,"c":1.0},{"s":"N2","u":150,"c":0.995},{"s":"N2","u":153,"c":1.0},
{"s":"N2","u":216,"c":1.0},{"s":"N2","u":219,"c":0.99},{"s":"N2","u":222,"c":1.0},{"s":"N2","u":225,"c":1.0},{"s":"N2","u":228,"c":0.995},{"s":"N2","u":231,"c":1.0},{"s":"N2","u":234,"c":1.0},{"s":"N2","u":236,"c":0.97},{"s":"N2","u":237,"c":0.96},{"s":"N2","u":238,"c":0.015},{"s":"N2","u":239,"c":0.012},{"s":"N2","u":240,"c":0.01},{"s":"N2","u":242,"c":0.008},{"s":"N2","u":244,"c":0.005},{"s":"N2","u":246,"c":0.003},{"s":"N2","u":248,"c":0.001},{"s":"N2","u":250,"c":0},
{"s":"CO2","u":0,"c":0},{"s":"CO2","u":3,"c":0},{"s":"CO2","u":6,"c":0},{"s":"CO2","u":9,"c":0},{"s":"CO2","u":12,"c":0},{"s":"CO2","u":15,"c":0},{"s":"CO2","u":18,"c":0},{"s":"CO2","u":21,"c":0},{"s":"CO2","u":24,"c":0.001},{"s":"CO2","u":27,"c":0.002},{"s":"CO2","u":30,"c":0.004},{"s":"CO2","u":33,"c":0.008},{"s":"CO2","u":36,"c":0.015},{"s":"CO2","u":38,"c":0.022},{"s":"CO2","u":40,"c":0.032},{"s":"CO2","u":42,"c":0.047},{"s":"CO2","u":44,"c":0.068},{"s":"CO2","u":44.7,"c":0.078},{"s":"CO2","u":45.5,"c":0.09},{"s":"CO2","u":46.2,"c":0.115},{"s":"CO2","u":47,"c":0.14},{"s":"CO2","u":47.7,"c":0.165},{"s":"CO2","u":48.5,"c":0.19},{"s":"CO2","u":49.2,"c":0.22},{"s":"CO2","u":50,"c":0.25},{"s":"CO2","u":50.7,"c":0.28},{"s":"CO2","u":51.5,"c":0.31},{"s":"CO2","u":52.2,"c":0.345},{"s":"CO2","u":53,"c":0.38},{"s":"CO2","u":53.7,"c":0.41},{"s":"CO2","u":54.5,"c":0.44},{"s":"CO2","u":55.2,"c":0.47},{"s":"CO2","u":56,"c":0.5},{"s":"CO2","u":56.7,"c":0.52},{"s":"CO2","u":57.5,"c":0.54},{"s":"CO2","u":58.2,"c":0.56},{"s":"CO2","u":59,"c":0.58},{"s":"CO2","u":60.5,"c":0.61},{"s":"CO2","u":62,"c":0.64},{"s":"CO2","u":64,"c":0.665},{"s":"CO2","u":66,"c":0.69},{"s":"CO2","u":68,"c":0.71},{"s":"CO2","u":70,"c":0.73},{"s":"CO2","u":73,"c":0.755},{"s":"CO2","u":76,"c":0.775},{"s":"CO2","u":79,"c":0.795},{"s":"CO2","u":82,"c":0.81},{"s":"CO2","u":85,"c":0.825},{"s":"CO2","u":88,"c":0.84},{"s":"CO2","u":91,"c":0.855},{"s":"CO2","u":94,"c":0.865},{"s":"CO2","u":97,"c":0.875},{"s":"CO2","u":100,"c":0.885},{"s":"CO2","u":104,"c":0.9},{"s":"CO2","u":108,"c":0.91},{"s":"CO2","u":112,"c":0.92},{"s":"CO2","u":116,"c":0.93},{"s":"CO2","u":120,"c":0.94},{"s":"CO2","u":124,"c":0.948},{"s":"CO2","u":128,"c":0.955},{"s":"CO2","u":132,"c":0.962},{"s":"CO2","u":136,"c":0.968},{"s":"CO2","u":140,"c":0.974},{"s":"CO2","u":144,"c":0.978},{"s":"CO2","u":148,"c":0.982},{"s":"CO2","u":152,"c":0.985},
{"s":"CO2","u":215,"c":0.99},{"s":"CO2","u":217,"c":1.0},{"s":"CO2","u":219,"c":0.99},{"s":"CO2","u":221,"c":1.01},{"s":"CO2","u":223,"c":1.0},{"s":"CO2","u":225,"c":1.0},{"s":"CO2","u":227,"c":0.995},{"s":"CO2","u":229,"c":1.0},{"s":"CO2","u":231,"c":1.01},{"s":"CO2","u":233,"c":1.03},{"s":"CO2","u":234,"c":0.99},{"s":"CO2","u":235,"c":0.97},{"s":"CO2","u":236.5,"c":1.01},{"s":"CO2","u":237,"c":0.82},{"s":"CO2","u":237.3,"c":0.8},{"s":"CO2","u":237.6,"c":0.78},{"s":"CO2","u":238,"c":0.75},{"s":"CO2","u":238.4,"c":0.67},{"s":"CO2","u":238.8,"c":0.63},{"s":"CO2","u":239.2,"c":0.59},{"s":"CO2","u":239.6,"c":0.56},{"s":"CO2","u":240,"c":0.52},{"s":"CO2","u":240.4,"c":0.48},{"s":"CO2","u":240.8,"c":0.44},{"s":"CO2","u":241.2,"c":0.41},{"s":"CO2","u":241.6,"c":0.38},{"s":"CO2","u":242,"c":0.35},{"s":"CO2","u":242.4,"c":0.32},{"s":"CO2","u":242.8,"c":0.29},{"s":"CO2","u":243.2,"c":0.26},{"s":"CO2","u":243.6,"c":0.23},{"s":"CO2","u":244,"c":0.2},{"s":"CO2","u":244.5,"c":0.17},{"s":"CO2","u":245,"c":0.14},{"s":"CO2","u":245.5,"c":0.11},{"s":"CO2","u":246,"c":0.09},{"s":"CO2","u":246.5,"c":0.07},{"s":"CO2","u":247,"c":0.055},{"s":"CO2","u":248,"c":0.04},{"s":"CO2","u":249,"c":0.025},{"s":"CO2","u":250,"c":0.015},{"s":"CO2","u":252,"c":0.008},{"s":"CO2","u":254,"c":0.004},{"s":"CO2","u":256,"c":0.002},{"s":"CO2","u":258,"c":0},{"s":"CO2","u":261,"c":0},{"s":"CO2","u":264,"c":0},{"s":"CO2","u":267,"c":0}
],
"legE": [{"s":"N2","lab":"N₂"},{"s":"CO2","lab":"CO₂"}],
"f": [
{"s":"CH4","u":0,"c":0},{"s":"CH4","u":1,"c":0},{"s":"CH4","u":2,"c":0},{"s":"CH4","u":3,"c":0},{"s":"CH4","u":4,"c":0},{"s":"CH4","u":5,"c":0},{"s":"CH4","u":6,"c":0},{"s":"CH4","u":7,"c":0},{"s":"CH4","u":8,"c":0},{"s":"CH4","u":8.5,"c":0.003},{"s":"CH4","u":9,"c":0.008},{"s":"CH4","u":9.4,"c":0.015},{"s":"CH4","u":9.8,"c":0.03},{"s":"CH4","u":10.1,"c":0.06},{"s":"CH4","u":10.4,"c":0.08},{"s":"CH4","u":10.7,"c":0.1},{"s":"CH4","u":11,"c":0.17},{"s":"CH4","u":11.3,"c":0.23},{"s":"CH4","u":11.6,"c":0.3},{"s":"CH4","u":11.9,"c":0.35},{"s":"CH4","u":12.1,"c":0.42},{"s":"CH4","u":12.4,"c":0.5},{"s":"CH4","u":12.7,"c":0.53},{"s":"CH4","u":13,"c":0.57},{"s":"CH4","u":13.3,"c":0.6},{"s":"CH4","u":13.6,"c":0.63},{"s":"CH4","u":14,"c":0.66},{"s":"CH4","u":14.4,"c":0.69},{"s":"CH4","u":14.8,"c":0.7},{"s":"CH4","u":15.2,"c":0.71},{"s":"CH4","u":15.6,"c":0.72},{"s":"CH4","u":16,"c":0.7},{"s":"CH4","u":16.2,"c":0.65},{"s":"CH4","u":16.5,"c":0.72},{"s":"CH4","u":16.9,"c":0.67},{"s":"CH4","u":17.2,"c":0.7},{"s":"CH4","u":17.6,"c":0.74},{"s":"CH4","u":18,"c":0.75},{"s":"CH4","u":18.4,"c":0.78},{"s":"CH4","u":18.8,"c":0.74},{"s":"CH4","u":19.2,"c":0.77},{"s":"CH4","u":19.6,"c":0.8},{"s":"CH4","u":20,"c":0.84},{"s":"CH4","u":20.4,"c":0.78},{"s":"CH4","u":20.8,"c":0.79},{"s":"CH4","u":21.3,"c":0.86},{"s":"CH4","u":21.7,"c":0.86},{"s":"CH4","u":22.1,"c":0.95},{"s":"CH4","u":22.5,"c":0.99},{"s":"CH4","u":22.9,"c":1.0},{"s":"CH4","u":23.3,"c":1.0},{"s":"CH4","u":23.7,"c":0.99},{"s":"CH4","u":24.1,"c":0.97},{"s":"CH4","u":24.5,"c":1.0},{"s":"CH4","u":24.9,"c":0.99},{"s":"CH4","u":25.3,"c":1.02},{"s":"CH4","u":25.7,"c":0.98},{"s":"CH4","u":26.1,"c":1.05},{"s":"CH4","u":26.5,"c":0.98},{"s":"CH4","u":26.9,"c":1.04},{"s":"CH4","u":27.3,"c":0.98},{"s":"CH4","u":27.7,"c":1.06},{"s":"CH4","u":28.1,"c":1.04},{"s":"CH4","u":28.5,"c":0.99},{"s":"CH4","u":28.9,"c":1.05},{"s":"CH4","u":29.3,"c":1.03},{"s":"CH4","u":29.7,"c":1.04},{"s":"CH4","u":30.1,"c":1.06},{"s":"CH4","u":30.5,"c":1.02},{"s":"CH4","u":30.9,"c":1.07},{"s":"CH4","u":31.3,"c":0.97},{"s":"CH4","u":31.7,"c":1.06},{"s":"CH4","u":32.1,"c":1.02},{"s":"CH4","u":32.5,"c":1.08},{"s":"CH4","u":32.9,"c":1.1},{"s":"CH4","u":33.3,"c":1.06},{"s":"CH4","u":33.7,"c":1.03},{"s":"CH4","u":34.1,"c":1.05},
{"s":"CH4","u":59.5,"c":0.9},{"s":"CH4","u":59.6,"c":0.78},{"s":"CH4","u":59.7,"c":0.66},{"s":"CH4","u":59.8,"c":0.48},{"s":"CH4","u":59.9,"c":0.4},{"s":"CH4","u":60,"c":0.3},{"s":"CH4","u":60.2,"c":0.24},{"s":"CH4","u":60.4,"c":0.17},{"s":"CH4","u":60.7,"c":0.12},{"s":"CH4","u":61,"c":0.08},{"s":"CH4","u":62,"c":0.04},{"s":"CH4","u":63,"c":0.025},{"s":"CH4","u":65,"c":0.015},{"s":"CH4","u":68,"c":0.012},{"s":"CH4","u":72,"c":0.01},{"s":"CH4","u":76,"c":0.01},{"s":"CH4","u":80,"c":0.01},{"s":"CH4","u":85,"c":0.01},{"s":"CH4","u":90,"c":0.012},{"s":"CH4","u":95,"c":0.015},{"s":"CH4","u":98,"c":0.02},{"s":"CH4","u":100,"c":0.028},{"s":"CH4","u":102,"c":0.032},{"s":"CH4","u":104,"c":0.03},{"s":"CH4","u":106,"c":0.02},{"s":"CH4","u":108,"c":0.012},{"s":"CH4","u":112,"c":0.008},{"s":"CH4","u":116,"c":0.005},{"s":"CH4","u":120,"c":0.005},
{"s":"CO2","u":0,"c":0},{"s":"CO2","u":1,"c":0},{"s":"CO2","u":2,"c":0},{"s":"CO2","u":3,"c":0},{"s":"CO2","u":4,"c":0},{"s":"CO2","u":5,"c":0},{"s":"CO2","u":6,"c":0},{"s":"CO2","u":7,"c":0},{"s":"CO2","u":8,"c":0},{"s":"CO2","u":9,"c":0},{"s":"CO2","u":10,"c":0},{"s":"CO2","u":11,"c":0},{"s":"CO2","u":12,"c":0},{"s":"CO2","u":13,"c":0},{"s":"CO2","u":14,"c":0},{"s":"CO2","u":15,"c":0},{"s":"CO2","u":16,"c":0},{"s":"CO2","u":17,"c":0.003},{"s":"CO2","u":17.6,"c":0.008},{"s":"CO2","u":18.2,"c":0.02},{"s":"CO2","u":18.7,"c":0.04},{"s":"CO2","u":19.2,"c":0.06},{"s":"CO2","u":19.6,"c":0.09},{"s":"CO2","u":20,"c":0.13},{"s":"CO2","u":20.4,"c":0.17},{"s":"CO2","u":20.7,"c":0.2},{"s":"CO2","u":21,"c":0.25},{"s":"CO2","u":21.3,"c":0.3},{"s":"CO2","u":21.6,"c":0.34},{"s":"CO2","u":21.9,"c":0.38},{"s":"CO2","u":22.2,"c":0.42},{"s":"CO2","u":22.5,"c":0.46},{"s":"CO2","u":22.8,"c":0.5},{"s":"CO2","u":23.1,"c":0.53},{"s":"CO2","u":23.4,"c":0.57},{"s":"CO2","u":23.8,"c":0.61},{"s":"CO2","u":24.2,"c":0.65},{"s":"CO2","u":24.6,"c":0.7},{"s":"CO2","u":25,"c":0.73},{"s":"CO2","u":25.4,"c":0.77},{"s":"CO2","u":25.8,"c":0.78},{"s":"CO2","u":26.2,"c":0.8},{"s":"CO2","u":26.6,"c":0.82},{"s":"CO2","u":27,"c":0.81},{"s":"CO2","u":27.4,"c":0.84},{"s":"CO2","u":27.8,"c":0.83},{"s":"CO2","u":28.2,"c":0.88},{"s":"CO2","u":28.6,"c":0.86},{"s":"CO2","u":29,"c":0.91},{"s":"CO2","u":29.4,"c":0.9},{"s":"CO2","u":29.8,"c":0.93},{"s":"CO2","u":30.2,"c":0.91},{"s":"CO2","u":30.6,"c":0.93},{"s":"CO2","u":31,"c":0.92},{"s":"CO2","u":31.4,"c":0.97},{"s":"CO2","u":31.8,"c":1.0},{"s":"CO2","u":32.2,"c":0.95},{"s":"CO2","u":32.6,"c":0.98},{"s":"CO2","u":33,"c":0.94},{"s":"CO2","u":33.4,"c":0.96},{"s":"CO2","u":33.8,"c":0.98},{"s":"CO2","u":34.2,"c":0.96},{"s":"CO2","u":34.6,"c":0.97},
{"s":"CO2","u":59.8,"c":1.12},{"s":"CO2","u":60,"c":1.1},{"s":"CO2","u":60.2,"c":0.98},{"s":"CO2","u":60.5,"c":0.9},{"s":"CO2","u":61,"c":0.82},{"s":"CO2","u":61.5,"c":0.75},{"s":"CO2","u":62,"c":0.68},{"s":"CO2","u":63,"c":0.6},{"s":"CO2","u":64,"c":0.52},{"s":"CO2","u":65,"c":0.46},{"s":"CO2","u":66,"c":0.41},{"s":"CO2","u":67,"c":0.37},{"s":"CO2","u":68,"c":0.33},{"s":"CO2","u":69,"c":0.3},{"s":"CO2","u":70,"c":0.27},{"s":"CO2","u":72,"c":0.24},{"s":"CO2","u":74,"c":0.21},{"s":"CO2","u":76,"c":0.19},{"s":"CO2","u":78,"c":0.175},{"s":"CO2","u":80,"c":0.165},{"s":"CO2","u":83,"c":0.155},{"s":"CO2","u":86,"c":0.15},{"s":"CO2","u":89,"c":0.145},{"s":"CO2","u":92,"c":0.14},{"s":"CO2","u":95,"c":0.14},{"s":"CO2","u":98,"c":0.14},{"s":"CO2","u":100,"c":0.135},{"s":"CO2","u":102,"c":0.13},{"s":"CO2","u":104,"c":0.12},{"s":"CO2","u":106,"c":0.1},{"s":"CO2","u":108,"c":0.08},{"s":"CO2","u":110,"c":0.06},{"s":"CO2","u":112,"c":0.045},{"s":"CO2","u":114,"c":0.035},{"s":"CO2","u":116,"c":0.028},{"s":"CO2","u":118,"c":0.022},{"s":"CO2","u":120,"c":0.02}
],
"legF": [{"s":"CH4","lab":"CH₄"},{"s":"CO2","lab":"CO₂"}]
},
"concat": [
{
 "width": 222, "height": 210,
 "resolve": {"scale": {"y": "independent"}},
 "layer": [
  {"layer": [
   {"data": {"name": "a"},
    "encoding": {
     "x": {"field": "p", "type": "quantitative", "scale": {"domain": [-0.045, 1.093], "nice": false, "zero": false}, "axis": {"values": [0, 0.2, 0.4, 0.6, 0.8, 1], "format": ".1f", "title": "Pressure / bar"}},
     "y": {"field": "q", "type": "quantitative", "scale": {"domain": [-0.3, 7], "nice": false, "zero": false}, "axis": {"values": [0, 1, 2, 3, 4, 5, 6, 7], "labelOverlap": false, "labelFlush": true, "tickCount": 8, "format": "d", "title": "Quantity Adsorbed / mmol g⁻¹", "titlePadding": 7}},
     "color": {"field": "m", "type": "nominal", "scale": {"domain": ["126", "127", "128", "136", "137", "138"], "range": ["#2b2b2b", "#2563eb", "#9b5cf0", "#f26a12", "#f2203f", "#3ee8a4"]}, "legend": null},
     "shape": {"field": "g", "type": "nominal", "scale": {"domain": ["C", "M"], "range": ["square", "circle"]}, "legend": null}},
    "layer": [
     {"transform": [{"filter": "datum.t=='A'"}], "mark": {"type": "point", "filled": true, "size": 28}},
     {"transform": [{"filter": "datum.t=='D'"}], "mark": {"type": "point", "filled": false, "size": 28, "strokeWidth": 1.2}}
    ]},
   {"data": {"values": [{"k": "a)"}]}, "mark": {"type": "text", "fontSize": 20, "fontWeight": "bold", "align": "left", "baseline": "top"},
    "encoding": {"x": {"datum": -0.204}, "y": {"datum": 6.93}, "text": {"field": "k"}}}
  ]},
  {"data": {"name": "legA"},
   "encoding": {"y": {"field": "m", "type": "ordinal", "scale": {"type": "point", "domain": ["126", "127", "128", "136", "137", "138"], "range": [8, 63], "padding": 0}, "axis": null}},
   "layer": [
    {"mark": {"type": "text", "align": "right", "baseline": "middle", "fontSize": 8}, "encoding": {"x": {"datum": 0.142}, "text": {"field": "lab"}}},
    {"mark": {"type": "text", "align": "left", "baseline": "middle", "fontSize": 8, "fontWeight": "bold"}, "encoding": {"x": {"datum": 0.155}, "text": {"value": "CO₂"}}},
    {"mark": {"type": "point", "shape": "square", "filled": true, "size": 26}, "encoding": {"x": {"datum": 0.272}, "color": {"field": "m", "type": "nominal", "legend": null}}},
    {"mark": {"type": "text", "align": "left", "baseline": "middle", "fontSize": 8}, "encoding": {"x": {"datum": 0.303}, "text": {"value": "Ads"}}},
    {"mark": {"type": "point", "shape": "square", "filled": false, "size": 26, "strokeWidth": 1.2}, "encoding": {"x": {"datum": 0.42}, "color": {"field": "m", "type": "nominal", "legend": null}}},
    {"mark": {"type": "text", "align": "left", "baseline": "middle", "fontSize": 8}, "encoding": {"x": {"datum": 0.467}, "text": {"value": "Des"}}},
    {"mark": {"type": "tick", "orient": "vertical", "thickness": 1.5, "color": "#111111"}, "encoding": {"x": {"datum": 0.549}, "size": {"value": 11}}},
    {"mark": {"type": "text", "align": "left", "baseline": "middle", "fontSize": 8, "fontWeight": "bold"}, "encoding": {"x": {"datum": 0.595}, "text": {"value": "CH₄"}}},
    {"mark": {"type": "point", "shape": "circle", "filled": true, "size": 26}, "encoding": {"x": {"datum": 0.708}, "color": {"field": "m", "type": "nominal", "legend": null}}},
    {"mark": {"type": "text", "align": "left", "baseline": "middle", "fontSize": 8}, "encoding": {"x": {"datum": 0.749}, "text": {"value": "Ads"}}},
    {"mark": {"type": "point", "shape": "circle", "filled": false, "size": 26, "strokeWidth": 1.2}, "encoding": {"x": {"datum": 0.867}, "color": {"field": "m", "type": "nominal", "legend": null}}},
    {"mark": {"type": "text", "align": "left", "baseline": "middle", "fontSize": 8}, "encoding": {"x": {"datum": 0.913}, "text": {"value": "Des"}}}
   ]}
 ]
},
{
 "width": 224, "height": 210,
 "resolve": {"scale": {"y": "independent"}},
 "layer": [
  {"layer": [
   {"data": {"name": "b"},
    "encoding": {
     "x": {"field": "p", "type": "quantitative", "scale": {"domain": [-0.05, 1.085], "nice": false, "zero": false}, "axis": {"values": [0, 0.2, 0.4, 0.6, 0.8, 1], "format": ".1f", "title": "Pressure / bar"}},
     "y": {"field": "q", "type": "quantitative", "scale": {"domain": [-0.15, 9.45], "nice": false, "zero": false}, "axis": {"values": [0, 2, 4, 6, 8], "title": "Quantity Adsorbed / mmol g⁻¹"}},
     "color": {"field": "s", "type": "nominal", "scale": {"domain": ["CO2 273", "CO2 298", "CH4 273", "CH4 298", "N2 273", "N2 298"], "range": ["#f0202e", "#6a24d4", "#239c7c", "#141414", "#2e55e6", "#f5732e"]}, "legend": null}},
    "layer": [
     {"transform": [{"filter": {"and": [{"field": "s", "oneOf": ["N2 273", "N2 298"]}, {"field": "t", "equal": "A"}]}}], "mark": {"type": "point", "shape": "M-1,0L1,0M0,-1L0,1", "filled": false, "size": 36, "strokeWidth": 1.2}},
     {"transform": [{"filter": {"and": [{"field": "s", "oneOf": ["N2 273", "N2 298"]}, {"field": "t", "equal": "D"}]}}], "mark": {"type": "point", "shape": "M-1,-1L1,1M-1,1L1,-1", "filled": false, "size": 28, "strokeWidth": 1.2}},
     {"transform": [{"filter": {"and": [{"field": "s", "oneOf": ["CH4 273", "CH4 298"]}, {"field": "t", "equal": "A"}]}}], "mark": {"type": "point", "shape": "triangle-up", "filled": true, "size": 26}},
     {"transform": [{"filter": {"and": [{"field": "s", "oneOf": ["CH4 273", "CH4 298"]}, {"field": "t", "equal": "D"}]}}], "mark": {"type": "point", "shape": "triangle-down", "filled": false, "size": 26, "strokeWidth": 1.2}},
     {"transform": [{"filter": {"and": [{"field": "s", "oneOf": ["CO2 273", "CO2 298"]}, {"field": "t", "equal": "A"}]}}], "mark": {"type": "point", "shape": "circle", "filled": true, "size": 28}},
     {"transform": [{"filter": {"and": [{"field": "s", "oneOf": ["CO2 273", "CO2 298"]}, {"field": "t", "equal": "D"}]}}], "mark": {"type": "point", "shape": "circle", "filled": false, "size": 28, "strokeWidth": 1.2}}
    ]},
   {"data": {"values": [{"k": "b)"}]}, "mark": {"type": "text", "fontSize": 20, "fontWeight": "bold", "align": "left", "baseline": "top"},
    "encoding": {"x": {"datum": -0.167}, "y": {"datum": 9.36}, "text": {"field": "k"}}}
  ]},
  {"data": {"name": "legB"},
   "encoding": {"y": {"field": "s", "type": "ordinal", "scale": {"type": "point", "domain": ["CO2 273", "CO2 298", "CH4 273", "CH4 298", "N2 273", "N2 298"], "range": [10, 69], "padding": 0}, "axis": null}},
   "layer": [
    {"mark": {"type": "text", "align": "left", "baseline": "middle", "fontSize": 8, "fontWeight": "bold"}, "encoding": {"x": {"datum": -0.018}, "text": {"field": "gas"}}},
    {"mark": {"type": "text", "align": "left", "baseline": "middle", "fontSize": 8}, "encoding": {"x": {"datum": 0.078}, "text": {"field": "tmp"}}},
    {"transform": [{"filter": {"field": "s", "oneOf": ["CO2 273", "CO2 298"]}}], "mark": {"type": "point", "shape": "circle", "filled": true, "size": 28}, "encoding": {"x": {"datum": 0.24}, "color": {"field": "s", "type": "nominal", "legend": null}}},
    {"transform": [{"filter": {"field": "s", "oneOf": ["CH4 273", "CH4 298"]}}], "mark": {"type": "point", "shape": "triangle-up", "filled": true, "size": 26}, "encoding": {"x": {"datum": 0.24}, "color": {"field": "s", "type": "nominal", "legend": null}}},
    {"transform": [{"filter": {"field": "s", "oneOf": ["N2 273", "N2 298"]}}], "mark": {"type": "point", "shape": "M-1,0L1,0M0,-1L0,1", "filled": false, "size": 36, "strokeWidth": 1.2}, "encoding": {"x": {"datum": 0.24}, "color": {"field": "s", "type": "nominal", "legend": null}}},
    {"mark": {"type": "text", "align": "left", "baseline": "middle", "fontSize": 8.5}, "encoding": {"x": {"datum": 0.3}, "text": {"value": "Ads"}}},
    {"transform": [{"filter": {"field": "s", "oneOf": ["CO2 273", "CO2 298"]}}], "mark": {"type": "point", "shape": "circle", "filled": false, "size": 28, "strokeWidth": 1.2}, "encoding": {"x": {"datum": 0.434}, "color": {"field": "s", "type": "nominal", "legend": null}}},
    {"transform": [{"filter": {"field": "s", "oneOf": ["CH4 273", "CH4 298"]}}], "mark": {"type": "point", "shape": "triangle-down", "filled": false, "size": 26, "strokeWidth": 1.2}, "encoding": {"x": {"datum": 0.434}, "color": {"field": "s", "type": "nominal", "legend": null}}},
    {"transform": [{"filter": {"field": "s", "oneOf": ["N2 273", "N2 298"]}}], "mark": {"type": "point", "shape": "M-1,-1L1,1M-1,1L1,-1", "filled": false, "size": 28, "strokeWidth": 1.2}, "encoding": {"x": {"datum": 0.434}, "color": {"field": "s", "type": "nominal", "legend": null}}},
    {"mark": {"type": "text", "align": "left", "baseline": "middle", "fontSize": 8.5}, "encoding": {"x": {"datum": 0.487}, "text": {"value": "Des"}}}
   ]}
 ]
},
{
 "width": 223, "height": 210,
 "resolve": {"scale": {"y": "independent"}, "axis": {"y": "independent"}},
 "layer": [
  {"layer": [
   {"data": {"name": "c"}, "mark": {"type": "point", "filled": true, "size": 28},
    "encoding": {
     "x": {"field": "p", "type": "quantitative", "scale": {"domain": [-0.058, 1.092], "nice": false, "zero": false}, "axis": {"values": [0, 0.2, 0.4, 0.6, 0.8, 1], "format": ".1f", "title": "Pressure / bar"}},
     "y": {"field": "q", "type": "quantitative", "scale": {"domain": [-0.55, 11.03], "nice": false, "zero": false}, "axis": {"values": [0, 2, 4, 6, 8, 10], "titleFontSize": 11.8, "title": "Quantity Adsorbed / mmol g⁻¹"}},
     "color": {"field": "s", "type": "nominal", "scale": {"domain": ["126 C2H2", "127 C2H2", "CO2", "CH4"], "range": ["#1e2a44", "#3a78f2", "#f5284c", "#3ee8b0"]}, "legend": null},
     "shape": {"field": "s", "type": "nominal", "scale": {"domain": ["126 C2H2", "127 C2H2", "CO2", "CH4"], "range": ["triangle-up", "triangle-up", "circle", "square"]}, "legend": null}}},
   {"data": {"values": [{"k": "c)"}]}, "mark": {"type": "text", "fontSize": 19, "fontWeight": "bold", "align": "left", "baseline": "top"},
    "encoding": {"x": {"datum": -0.213}, "y": {"datum": 11.0}, "text": {"field": "k"}}}
  ]},
  {"data": {"name": "legC"},
   "encoding": {"y": {"field": "s", "type": "ordinal", "scale": {"type": "point", "domain": ["126 C2H2", "127 C2H2", "CO2", "CH4"], "range": [11, 51], "padding": 0}, "axis": null}},
   "layer": [
    {"mark": {"type": "text", "align": "right", "baseline": "middle", "fontSize": 8.5}, "encoding": {"x": {"datum": 0.179}, "text": {"field": "lab"}}},
    {"mark": {"type": "point", "filled": true, "size": 28}, "encoding": {"x": {"datum": 0.222}, "color": {"field": "s", "type": "nominal", "legend": null}, "shape": {"field": "s", "type": "nominal", "legend": null}}},
    {"mark": {"type": "text", "align": "left", "baseline": "middle", "fontSize": 8.5, "fontWeight": "bold"}, "encoding": {"x": {"datum": 0.273}, "text": {"field": "gas"}}}
   ]},
  {"data": {"values": [{"k": 0}]}, "mark": {"type": "rule", "opacity": 0},
   "encoding": {"y": {"datum": 0, "type": "quantitative", "scale": {"domain": [-12.2, 244.9], "nice": false, "zero": false}, "axis": {"orient": "right", "values": [0, 50, 100, 150, 200], "labelPadding": 5, "titlePadding": 0, "titleFontSize": 12.5, "title": "Quantity Adsorbed / cm³ g⁻¹"}}}}
 ]
},
{
 "width": 219, "height": 210,
 "resolve": {"scale": {"y": "independent"}},
 "layer": [
  {"layer": [
   {"data": {"name": "d"}, "mark": {"type": "line", "strokeWidth": 1.6},
    "encoding": {
     "x": {"field": "p", "type": "quantitative", "scale": {"domain": [0.043, 1.022], "nice": false, "zero": false}, "axis": {"values": [0.2, 0.4, 0.6, 0.8, 1], "format": ".1f", "title": "Pressure / bar"}},
     "y": {"field": "v", "type": "quantitative", "scale": {"domain": [-10.2, 100], "nice": false, "zero": false}, "axis": {"values": [0, 20, 40, 60, 80, 100], "title": "Selectivity"}},
     "color": {"field": "s", "type": "nominal", "scale": {"domain": ["N2 273", "N2 298", "CH4 273", "CH4 298"], "range": ["#111111", "#f2202a", "#1f8a6e", "#f57a35"]}, "legend": null}}},
   {"data": {"values": [{"k": "d)"}]}, "mark": {"type": "text", "fontSize": 20, "fontWeight": "bold", "align": "left", "baseline": "top"},
    "encoding": {"x": {"datum": -0.0956}, "y": {"datum": 97.2}, "text": {"field": "k"}}}
  ]},
  {"data": {"name": "legD"},
   "encoding": {"y": {"field": "row", "type": "ordinal", "scale": {"type": "point", "domain": ["N2", "CH4"], "range": [19, 31], "padding": 0}, "axis": null}},
   "layer": [
    {"transform": [{"filter": "datum.tmp=='273 K'"}], "mark": {"type": "text", "align": "left", "baseline": "middle", "fontSize": 8, "fontWeight": "bold"}, "encoding": {"x": {"datum": 0.101}, "text": {"field": "mix"}}},
    {"transform": [{"filter": "datum.tmp=='273 K'"}], "mark": {"type": "text", "align": "left", "baseline": "middle", "fontSize": 8}, "encoding": {"x": {"datum": 0.268}, "text": {"field": "ratio"}}},
    {"transform": [{"filter": "datum.tmp=='273 K'"}], "mark": {"type": "rule", "strokeWidth": 1.6}, "encoding": {"x": {"datum": 0.378}, "x2": {"datum": 0.454}, "color": {"field": "s", "type": "nominal", "legend": null}}},
    {"transform": [{"filter": "datum.tmp=='273 K'"}], "mark": {"type": "text", "align": "left", "baseline": "middle", "fontSize": 8.5}, "encoding": {"x": {"datum": 0.463}, "text": {"field": "tmp"}}},
    {"transform": [{"filter": "datum.tmp=='298 K'"}], "mark": {"type": "rule", "strokeWidth": 1.6}, "encoding": {"x": {"datum": 0.575}, "x2": {"datum": 0.647}, "color": {"field": "s", "type": "nominal", "legend": null}}},
    {"transform": [{"filter": "datum.tmp=='298 K'"}], "mark": {"type": "text", "align": "left", "baseline": "middle", "fontSize": 8.5}, "encoding": {"x": {"datum": 0.669}, "text": {"field": "tmp"}}}
   ]}
 ]
},
{
 "width": 225, "height": 210,
 "resolve": {"scale": {"y": "independent"}},
 "layer": [
  {"layer": [
   {"data": {"name": "e"}, "mark": {"type": "point", "filled": true, "size": 20},
    "encoding": {
     "x": {"field": "u", "type": "quantitative", "scale": {"domain": [-5, 154, 214, 268], "range": [0, 168, 169, 225], "nice": false, "zero": false}, "axis": {"values": [0, 50, 100, 250], "title": "Dimensionless time, τ"}},
     "y": {"field": "c", "type": "quantitative", "scale": {"domain": [-0.03, 1.206], "nice": false, "zero": false}, "axis": {"values": [0, 0.5, 1], "format": ".1f", "title": "C/C₀"}},
     "color": {"field": "s", "type": "nominal", "scale": {"domain": ["N2", "CO2"], "range": ["#3d5058", "#ff2d55"]}, "legend": null},
     "shape": {"field": "s", "type": "nominal", "scale": {"domain": ["N2", "CO2"], "range": ["square", "circle"]}, "legend": null}}},
   {"data": {"values": [{"k": "e)"}]}, "mark": {"type": "text", "fontSize": 20, "fontWeight": "bold", "align": "left", "baseline": "top"},
    "encoding": {"x": {"datum": -27.7}, "y": {"datum": 1.188}, "text": {"field": "k"}}},
   {"data": {"values": [{"k": "//"}]}, "mark": {"type": "text", "fontSize": 10, "align": "center", "baseline": "middle", "color": "#333333"},
    "encoding": {"x": {"datum": 184}, "y": {"datum": -0.03}, "text": {"field": "k"}}},
   {"data": {"values": [{"k": "//"}]}, "mark": {"type": "text", "fontSize": 10, "align": "center", "baseline": "middle", "color": "#333333"},
    "encoding": {"x": {"datum": 184}, "y": {"datum": 1.206}, "text": {"field": "k"}}}
  ]},
  {"data": {"name": "legE"},
   "encoding": {"y": {"field": "s", "type": "ordinal", "scale": {"type": "point", "domain": ["N2", "CO2"], "range": [15, 26], "padding": 0}, "axis": null}},
   "layer": [
    {"mark": {"type": "point", "filled": true, "size": 24}, "encoding": {"x": {"datum": 14.6}, "color": {"field": "s", "type": "nominal", "legend": null}, "shape": {"field": "s", "type": "nominal", "legend": null}}},
    {"mark": {"type": "text", "align": "left", "baseline": "middle", "fontSize": 8.5, "fontWeight": "bold"}, "encoding": {"x": {"datum": 21.5}, "text": {"field": "lab"}}}
   ]}
 ]
},
{
 "width": 229, "height": 210,
 "resolve": {"scale": {"y": "independent"}},
 "layer": [
  {"layer": [
   {"data": {"name": "f"}, "mark": {"type": "point", "filled": true, "size": 20},
    "encoding": {
     "x": {"field": "u", "type": "quantitative", "scale": {"domain": [-1.1, 35.2, 56, 123.6], "range": [0, 192, 193, 229], "nice": false, "zero": false}, "axis": {"values": [0, 10, 20, 30, 80, 120], "title": "Dimensionless time, τ"}},
     "y": {"field": "c", "type": "quantitative", "scale": {"domain": [-0.025, 1.205], "nice": false, "zero": false}, "axis": {"values": [0, 0.5, 1], "format": ".1f", "title": "C/C₀"}},
     "color": {"field": "s", "type": "nominal", "scale": {"domain": ["CH4", "CO2"], "range": ["#4169f0", "#ff2d55"]}, "legend": null},
     "shape": {"field": "s", "type": "nominal", "scale": {"domain": ["CH4", "CO2"], "range": ["square", "circle"]}, "legend": null}}},
   {"data": {"values": [{"k": "f)"}]}, "mark": {"type": "text", "fontSize": 20, "fontWeight": "bold", "align": "left", "baseline": "top"},
    "encoding": {"x": {"datum": -4.3}, "y": {"datum": 1.187}, "text": {"field": "k"}}},
   {"data": {"values": [{"k": "//"}]}, "mark": {"type": "text", "fontSize": 10, "align": "center", "baseline": "middle", "color": "#333333"},
    "encoding": {"x": {"datum": 45}, "y": {"datum": -0.025}, "text": {"field": "k"}}},
   {"data": {"values": [{"k": "//"}]}, "mark": {"type": "text", "fontSize": 10, "align": "center", "baseline": "middle", "color": "#333333"},
    "encoding": {"x": {"datum": 45}, "y": {"datum": 1.205}, "text": {"field": "k"}}}
  ]},
  {"data": {"name": "legF"},
   "encoding": {"y": {"field": "s", "type": "ordinal", "scale": {"type": "point", "domain": ["CH4", "CO2"], "range": [16, 27], "padding": 0}, "axis": null}},
   "layer": [
    {"mark": {"type": "point", "filled": true, "size": 24}, "encoding": {"x": {"datum": 4.3}, "color": {"field": "s", "type": "nominal", "legend": null}, "shape": {"field": "s", "type": "nominal", "legend": null}}},
    {"mark": {"type": "text", "align": "left", "baseline": "middle", "fontSize": 8.5, "fontWeight": "bold"}, "encoding": {"x": {"datum": 6.2}, "text": {"field": "lab"}}}
   ]}
 ]
}
]
}
